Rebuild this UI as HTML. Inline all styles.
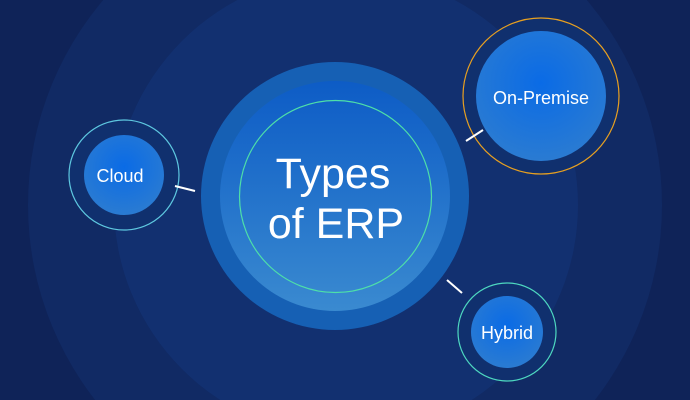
<!DOCTYPE html>
<html><head><style>
html,body{margin:0;padding:0;width:690px;height:400px;overflow:hidden;background:#0f2358;}
svg{display:block;position:absolute;left:0;top:0}
text{font-family:"Liberation Sans",sans-serif;fill:#fff;text-anchor:middle}
</style></head><body>
<svg width="690" height="400" viewBox="0 0 690 400">
<defs>
<linearGradient id="g1" x1="0" y1="0" x2="0" y2="1"><stop offset="0" stop-color="#0d5cc6"/><stop offset="1" stop-color="#3a8ad0"/></linearGradient>
<radialGradient id="g2" cx="0.5" cy="0.4" r="0.6"><stop offset="0" stop-color="#0a6be6"/><stop offset="1" stop-color="#2a7bd2"/></radialGradient>
</defs>
<rect width="690" height="400" fill="#0f2358"/>
<circle cx="345" cy="205" r="317" fill="#112a64"/>
<circle cx="346" cy="205" r="232" fill="#123070"/>
<circle cx="335" cy="196" r="134" fill="#1660b4"/>
<circle cx="335" cy="196" r="115" fill="url(#g1)"/>
<circle cx="335.5" cy="196.5" r="96" fill="none" stroke="#4ee0a8" stroke-width="1.2"/>
<text x="333" y="188" font-size="43">Types</text>
<text x="336" y="238" font-size="43">of ERP</text>
<circle cx="541" cy="96" r="78" fill="#10306e" stroke="#e8a020" stroke-width="1.2"/>
<circle cx="541" cy="96" r="65" fill="url(#g2)"/>
<text x="541" y="104" font-size="18">On-Premise</text>
<circle cx="507" cy="332" r="49" fill="#10306e" stroke="#4ed8c0" stroke-width="1.2"/>
<circle cx="507" cy="332" r="36" fill="url(#g2)"/>
<text x="507" y="339" font-size="18">Hybrid</text>
<circle cx="124" cy="175" r="55" fill="#10306e" stroke="#5ec8e0" stroke-width="1.2"/>
<circle cx="124" cy="175" r="40" fill="url(#g2)"/>
<text x="120" y="182" font-size="18">Cloud</text>
<g stroke="#fff" stroke-width="2">
<line x1="175" y1="186" x2="195" y2="191"/>
<line x1="466" y1="141" x2="483" y2="130"/>
<line x1="447" y1="280" x2="462" y2="293"/>
</g>
</svg>
</body></html>
